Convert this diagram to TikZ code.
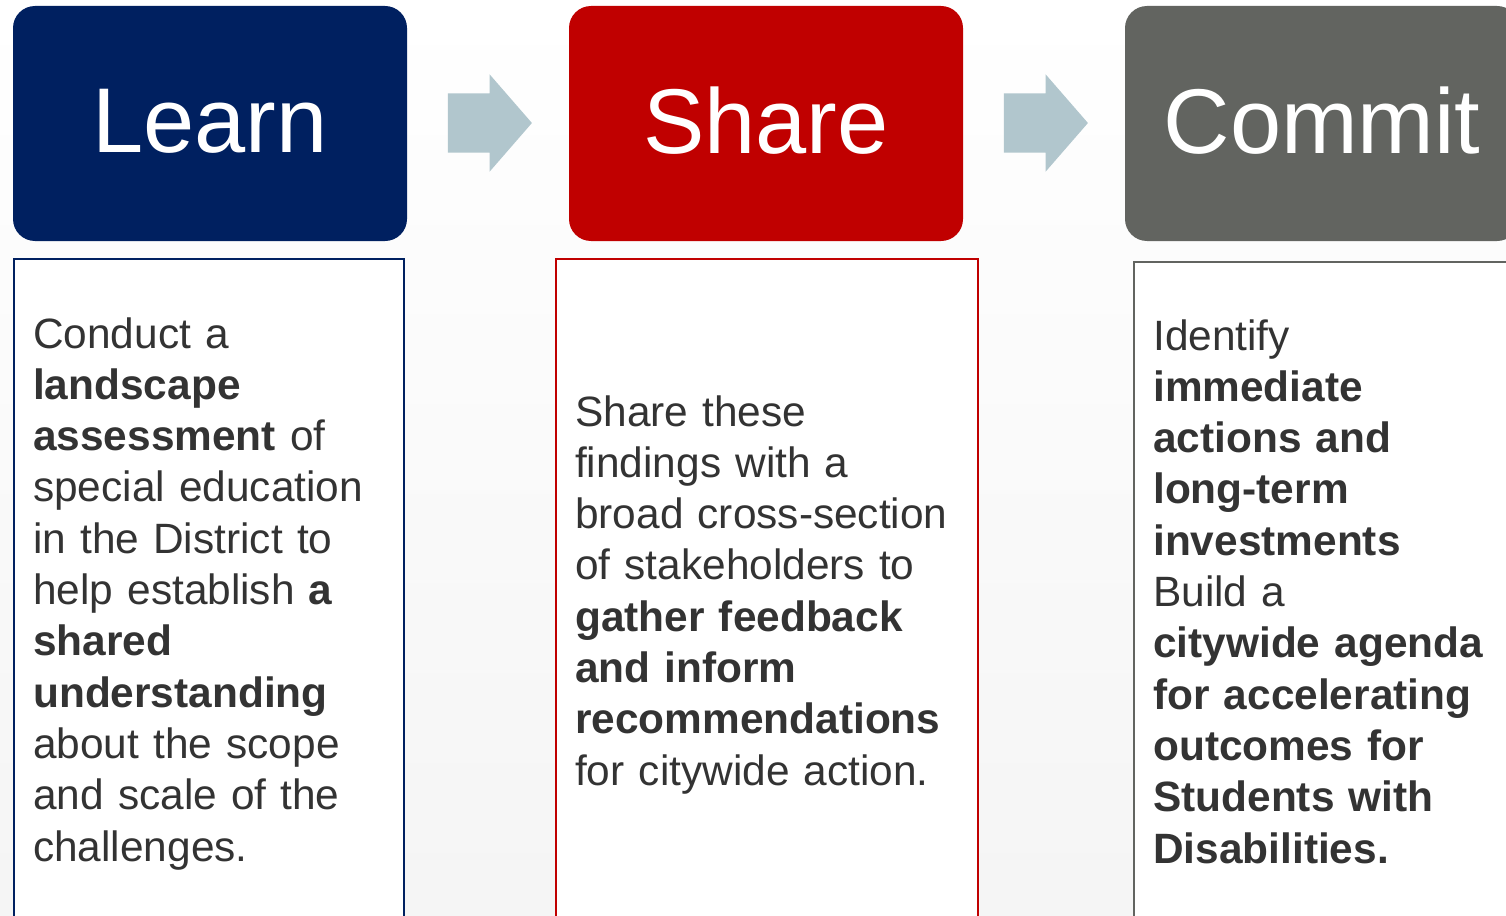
\documentclass[tikz,border=0pt]{standalone}
\usepackage{fontspec}
\setmainfont{Liberation Sans}
\usepackage{tikz}
\usetikzlibrary{shapes,arrows}

\definecolor{learnblue}{HTML}{002060}
\definecolor{sharered}{HTML}{C00000}
\definecolor{commitgray}{HTML}{626460}
\definecolor{arrowgray}{HTML}{B1C6CD}
\definecolor{bodytext}{HTML}{333333}

\begin{document}
\begin{tikzpicture}
		[
		x = 1pt, y = -1pt,
		header/.style = {rounded corners = 22pt, minimum width = 394pt, minimum height = 235pt, inner sep = 0pt, text depth = 6pt, text = white, font = \fontsize{92}{92}\selectfont},
		panel/.style = {draw, line width = 2pt, fill = white, anchor = north west, minimum height = 680pt, inner sep = 0pt},
		body/.style = {anchor = base west, text width = 380pt, align = left, inner sep = 0pt, text = bodytext, font = \fontsize{42.4}{51.3}\selectfont},
		flow arrow/.style = {single arrow, fill = arrowgray, inner xsep = 0pt, inner ysep = 29.5pt, minimum height = 84pt, single arrow head extend = 19pt, single arrow tip angle = 98}
		]
		
		\useasboundingbox (0,0) rectangle (1506,915);
		\clip (0,0) rectangle (1506,915);
		\shade [top color = white, bottom color = black!4] (0,0) rectangle (1506,915);
		
		\node [header, fill = learnblue] (learn) at (210,123.5) {Learn};
		\node [header, fill = sharered] (share) at (766,123.5) {Share};
		\node [header, fill = commitgray] (commit) at (1322,123.5) {Commit};
		
		\node [flow arrow] (learn2share) at (477,123) {};
		\node [flow arrow] (share2commit) at (1033,123) {};
		
		\node [panel, draw = learnblue, minimum width = 390pt] (learnpanel) at (13,258) {};
		\node [panel, draw = sharered, minimum width = 422pt] (sharepanel) at (555,258) {};
		\node [panel, draw = commitgray, minimum width = 420pt] (commitpanel) at (1133,261) {};
		
		\node [body] (learntext) at (33,348) {
			Conduct a\\
			\textbf{landscape}\\
			\textbf{assessment} of\\
			special education\\
			in the District to\\
			help establish \textbf{a}\\
			\textbf{shared}\\
			\textbf{understanding}\\
			about the scope\\
			and scale of the\\
			challenges.};
		\node [body] (sharetext) at (575,426) {
			Share these\\
			findings with a\\
			broad cross-section\\
			of stakeholders to\\
			\textbf{gather feedback}\\
			\textbf{and inform}\\
			\textbf{recommendations}\\
			for citywide action.};
		\node [body] (committext) at (1153,350) {
			Identify\\
			\textbf{immediate}\\
			\textbf{actions and}\\
			\textbf{long-term}\\
			\textbf{investments}\\
			Build a\\
			\textbf{citywide agenda}\\
			\textbf{for accelerating}\\
			\textbf{outcomes for}\\
			\textbf{Students with}\\
			\textbf{Disabilities.}};
		
		\end{tikzpicture}
\end{document}
